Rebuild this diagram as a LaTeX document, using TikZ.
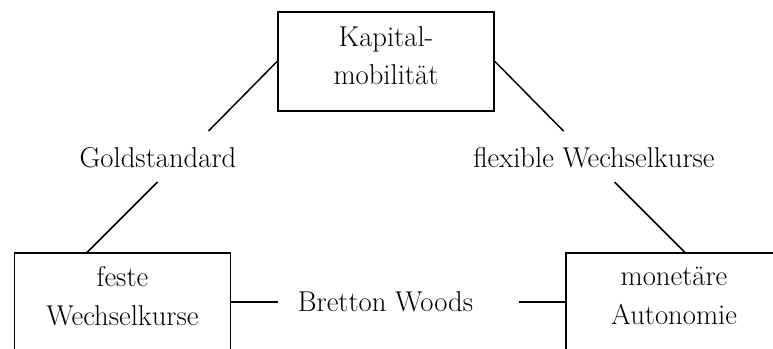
\documentclass[tikz,border=0pt]{standalone}
\usepackage{tikz}

\begin{document}
\begin{tikzpicture}[x=0.75pt, y=-0.75pt, line width=1.1pt]
\tikzstyle{boxr}=[rectangle, draw=black, line width=1.4pt, minimum width=162pt, minimum height=74pt, align=center, text depth=9pt, font=\fontsize{21.5}{29}\selectfont]
\tikzstyle{labelc}=[inner sep=0pt, font=\fontsize{21.5}{29}\selectfont]
\tikzstyle{drawstyle}=[line width=1.1pt]

\useasboundingbox (0,0) rectangle (773,349);

\node[boxr] (kap) at (386,61.5) {Kapital-\\mobilität};
\node[boxr] (fest) at (122.5,302) {feste\\Wechselkurse};
\node[boxr] (mon) at (674,302) {monetäre\\Autonomie};

\node[labelc] (gold) at (158,158) {Goldstandard};
\node[labelc] (flex) at (594,158) {flexible Wechselkurse};
\node[labelc] (bw) at (385.5,302) {Bretton Woods};

% ends of the line pieces
\coordinate (g1) at (208.5,131);
\coordinate (g2) at (157.5,182);
\coordinate (ga) at (87,252.5);
\coordinate (f1) at (563.5,131);
\coordinate (f2) at (614.5,182);
\coordinate (fb) at (685,252.5);
\coordinate (b1) at (278,302);
\coordinate (b2) at (519,302);

\draw[drawstyle] (kap.west) -- (g1);
\draw[drawstyle] (g2) -- (ga);
\draw[drawstyle] (kap.east) -- (f1);
\draw[drawstyle] (f2) -- (fb);
\draw[drawstyle] (fest.east) -- (b1);
\draw[drawstyle] (b2) -- (mon.west);
\end{tikzpicture}
\end{document}
